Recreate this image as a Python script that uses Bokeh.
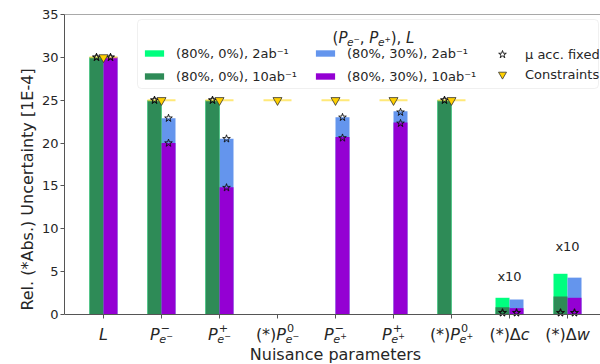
from bokeh.plotting import figure
from bokeh.models import Range1d, FixedTicker, Legend, LegendItem, Label, Span, Title, BoxAnnotation
from bokeh.embed import file_html
from bokeh.resources import INLINE

nan = float("nan")

# ---------------- data ----------------
categories = ["L", "P_e-^-", "P_e-^+", "(*)P_e-^0", "P_e+^-", "P_e+^+", "(*)P_e+^0", "(*)Δc", "(*)Δw"]
# tick label parts: (upright prefix, italic base, superscript, subscript, superscript of subscript)
tick_parts = [
    ("", "L", "", "", ""),
    ("", "P", "−", "e", "−"),
    ("", "P", "+", "e", "−"),
    ("(*)", "P", "0", "e", "−"),
    ("", "P", "−", "e", "+"),
    ("", "P", "+", "e", "+"),
    ("(*)", "P", "0", "e", "+"),
    ("(*)Δ", "c", "", "", ""),
    ("(*)Δ", "w", "", "", ""),
]
legend_title_parts = [("(", "P", "", "e", "−"), (", ", "P", "", "e", "+"), ("), ", "L", "", "", "")]

pol0_2ab = [30, 25, 25, 0, 0, 0, 25, 1.95, 4.75]
pol0_10ab = [30, 25, 25, 0, 0, 0, 25, 0.85, 2.1]
pol30_2ab = [30, 22.9, 20.5, 0, 23.0, 23.7, 0, 1.75, 4.3]
pol30_10ab = [30, 20.0, 14.85, 0, 20.7, 22.4, 0, 0.74, 1.95]

star_pol0_2ab = [30, 25, 25, nan, nan, nan, 25, 0.2, 0.2]
star_pol0_10ab = [30, 25, 25, nan, nan, nan, 25, 0.2, 0.2]
star_pol30_2ab = [30, 22.9, 20.5, nan, 23.0, 23.6, nan, 0.2, 0.2]
star_pol30_10ab = [30, 20.0, 14.8, nan, 20.6, 22.3, nan, 0.2, 0.2]

constraints = [30, 25, 25, 25, 25, 25, 25, nan, nan]

x10_index = [7, 8]
x10_text = ["x10", "x10"]

y_ticks = [0, 5, 10, 15, 20, 25, 30, 35]
y_label = "Rel. (*Abs.) Uncertainty [1E-4]"
x_label = "Nuisance parameters"
series_labels = ["(80%, 0%), 2ab⁻¹", "(80%, 0%), 10ab⁻¹", "(80%, 30%), 2ab⁻¹", "(80%, 30%), 10ab⁻¹"]
star_label = "μ acc. fixed"
constraint_label = "Constraints"

# ---------------- layout (pixels) ----------------
W, H = 600, 364
FL, FT = 64, 14          # frame left / top
AXIS_Y = 314             # pixel row of y = 0
cat_px = 58.0            # pixels between categories
x0_px = 103              # pixel column of first category
y_max = 35
ppu = (AXIS_Y - FT) / y_max
y_min = -(H - AXIS_Y) / ppu
x_lo = (FL - x0_px) / cat_px
x_hi = x_lo + (W - FL) / cat_px


def px_x(px):
    return (px - x0_px) / cat_px


def px_y(px):
    return (AXIS_Y - px) / ppu


FONT = "DejaVu Sans"
TXT = "#262626"
AX = "#555555"
C_LG, C_DG, C_BL, C_PU = "#00FF7F", "#2E8B57", "#6495ED", "#9400D3"

p = figure(width=W, height=H, output_backend="svg", toolbar_location=None,
           x_range=Range1d(x_lo, x_hi), y_range=Range1d(y_min, y_max),
           x_axis_location=None,
           min_border_left=FL, min_border_right=0, min_border_top=FT, min_border_bottom=0)
p.outline_line_color = None
p.grid.grid_line_color = None
p.background_fill_color = "white"
p.border_fill_color = "white"

xs = list(range(len(categories)))
bw = 14 / cat_px
xl = [x - bw / 2 for x in xs]
xr = [x + bw / 2 for x in xs]

r_lg = p.vbar(x=xl, top=pol0_2ab, width=bw, fill_color=C_LG, line_color=None)
r_bl = p.vbar(x=xr, top=pol30_2ab, width=bw, fill_color=C_BL, line_color=None)
r_dg = p.vbar(x=xl, top=pol0_10ab, width=bw, fill_color=C_DG, line_color=None)
r_pu = p.vbar(x=xr, top=pol30_10ab, width=bw, fill_color=C_PU, line_color=None)

p.segment(x0=[x - bw for x in xs], y0=constraints, x1=[x + bw for x in xs], y1=constraints,
          line_color="#FFE040", line_alpha=0.7, line_width=2)

star_kw = dict(marker="star", size=8, fill_alpha=0, line_color="#111111", line_width=0.9)
r_star = p.scatter(x=xl, y=star_pol0_2ab, **star_kw)
p.scatter(x=xl, y=star_pol0_10ab, **star_kw)
p.scatter(x=xr, y=star_pol30_2ab, **star_kw)
p.scatter(x=xr, y=star_pol30_10ab, **star_kw)

r_tri = p.scatter(x=xs, y=constraints, marker="inverted_triangle", size=9,
                  fill_color="#FFD000", line_color="#333333", line_width=0.8)

# y axis
p.yaxis.bounds = (0, y_max)
p.yaxis.ticker = FixedTicker(ticks=y_ticks)
p.yaxis.minor_tick_line_color = None
p.yaxis.major_tick_out = 4
p.yaxis.major_tick_in = 0
p.yaxis.major_label_standoff = 2
p.yaxis.major_label_text_font = FONT
p.yaxis.major_label_text_font_size = "13px"
p.yaxis.major_label_text_color = TXT
p.yaxis.axis_line_color = AX
p.yaxis.major_tick_line_color = AX
p.add_layout(Title(text=y_label, align="center", offset=26, standoff=4,
                   text_font=FONT, text_font_size="16px", text_font_style="normal",
                   text_color=TXT), "left")

# x axis line, ticks and top spine
p.add_layout(Span(location=0, dimension="width", line_color=AX, line_width=1))
p.add_layout(Span(location=y_max, dimension="width", line_color=AX, line_width=1))
p.segment(x0=xs, y0=[0] * len(xs), x1=xs, y1=[-4 / ppu] * len(xs), line_color=AX, line_width=1)

# legend box + legends
p.add_layout(BoxAnnotation(left=px_x(137), right=px_x(598), top=px_y(19), bottom=px_y(88),
                           fill_color="white", fill_alpha=0.85, line_color="#cccccc",
                           line_width=1, border_radius=4))

leg_a = Legend(items=[
    LegendItem(label=series_labels[0], renderers=[r_lg]),
    LegendItem(label=series_labels[1], renderers=[r_dg]),
    LegendItem(label=series_labels[2], renderers=[r_bl]),
    LegendItem(label=series_labels[3], renderers=[r_pu]),
], ncols=2, location=(142 - FL, H - 85))
leg_a.label_text_font = FONT
leg_a.label_text_font_size = "13px"
leg_a.label_text_color = TXT
leg_a.glyph_width = 24
leg_a.glyph_height = 8
leg_a.label_height = 18
leg_a.label_width = 132
leg_a.label_standoff = 10
leg_a.spacing = 5
leg_a.padding = 0
leg_a.margin = 0
leg_a.border_line_color = None
leg_a.background_fill_alpha = 0
p.add_layout(leg_a)

leg_b = Legend(items=[
    LegendItem(label=star_label, renderers=[r_star]),
    LegendItem(label=constraint_label, renderers=[r_tri]),
], location=(490 - FL, H - 84))
leg_b.label_text_font = FONT
leg_b.label_text_font_size = "13px"
leg_b.label_text_color = TXT
leg_b.glyph_width = 24
leg_b.glyph_height = 20
leg_b.label_height = 16
leg_b.label_standoff = 11
leg_b.spacing = 0
leg_b.padding = 0
leg_b.margin = 0
leg_b.border_line_color = None
leg_b.background_fill_alpha = 0
p.add_layout(leg_b)

# math-like composed text
EM = {"(": .390, ")": .390, "*": .500, "L": .557, "P": .603, "e": .615, "c": .550, "w": .818,
      "Δ": .684, "−": .838, "+": .838, "0": .636, ",": .318, " ": .318}


def tw(s, size):
    return sum(EM.get(ch, .6) for ch in s) * size


def layout(atoms, size):
    s1, s2 = 0.7 * size, 0.5 * size
    pieces = []
    cx = 0.0
    for pre, base, sup, sub, subsup in atoms:
        if pre:
            pieces.append((pre, cx, 0.0, size, "normal"))
            cx += tw(pre, size)
        if base:
            pieces.append((base, cx, 0.0, size, "italic"))
            cx += tw(base, size)
        wsup = wsub = 0.0
        if sup:
            pieces.append((sup, cx + 0.06 * size, 0.40 * size, s1, "normal"))
            wsup = tw(sup, s1) + 0.06 * size
        if sub:
            pieces.append((sub, cx - 0.03 * size, -0.31 * size, s1, "italic"))
            wsub = tw(sub, s1) - 0.03 * size
            if subsup:
                pieces.append((subsup, cx + wsub, -0.31 * size + 0.22 * size, s2, "normal"))
                wsub += tw(subsup, s2)
        cx += max(wsup, wsub)
    return pieces, cx


def draw_math(x, baseline_px, atoms, size):
    pieces, total = layout(atoms, size)
    for text, dx, dy, fs, style in pieces:
        p.add_layout(Label(x=x, y=px_y(baseline_px - dy), x_offset=dx - total / 2,
                           text=text, text_font=FONT, text_font_size=f"{fs:.1f}px",
                           text_font_style=style, text_color=TXT, level="overlay",
                           text_align="left", text_baseline="alphabetic"))


for i, parts in enumerate(tick_parts):
    draw_math(xs[i], AXIS_Y + 20, [parts], 16)

draw_math(px_x(373), 37, legend_title_parts, 15)

p.add_layout(Label(x=px_x(335), y=px_y(353.5), text=x_label, text_font=FONT, text_font_size="16px",
                   text_color=TXT, text_align="center", text_baseline="alphabetic"))

x10_px = [21, 27]
for k, idx in enumerate(x10_index):
    top = max(pol0_2ab[idx], pol30_2ab[idx])
    p.add_layout(Label(x=xs[idx], y=top + x10_px[k] / ppu, text=x10_text[k], text_font=FONT,
                       text_font_size="13px", text_color=TXT, text_align="center",
                       text_baseline="middle"))

open("out.html", "w").write(file_html(p, INLINE))
